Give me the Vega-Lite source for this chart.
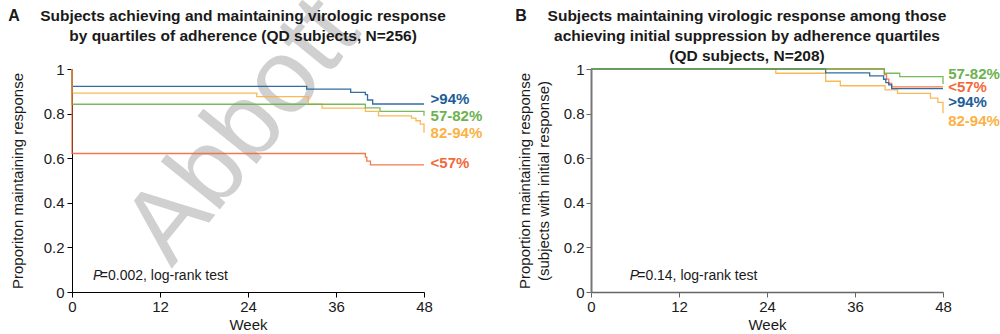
{
  "$schema": "https://vega.github.io/schema/vega-lite/v6.json",
  "background": "white",
  "padding": {"left": 8, "top": -20, "right": 0, "bottom": 0},
  "bounds": "flush",
  "spacing": 167,
  "config": {
    "font": "Liberation Sans",
    "view": {"stroke": null},
    "axis": {"labelFont": "Liberation Sans", "titleFont": "Liberation Sans", "labelFontSize": 15, "titleFontSize": 15, "titleFontWeight": "normal", "labelColor": "#1a1a1a", "titleColor": "#1a1a1a", "grid": false, "tickSize": 5, "labelPadding": 2, "labelFlush": false}
  },
  "datasets": {
    "a": [
      {"g": ">94%", "w": 0, "s": 1}, {"g": ">94%", "w": 0, "s": 0.922}, {"g": ">94%", "w": 32.0, "s": 0.910}, {"g": ">94%", "w": 38.0, "s": 0.895}, {"g": ">94%", "w": 40.0, "s": 0.885}, {"g": ">94%", "w": 40.3, "s": 0.861}, {"g": ">94%", "w": 41.0, "s": 0.843}, {"g": ">94%", "w": 48, "s": 0.843},
      {"g": "82-94%", "w": 0, "s": 1}, {"g": "82-94%", "w": 0, "s": 0.892}, {"g": "82-94%", "w": 25.2, "s": 0.876}, {"g": "82-94%", "w": 32.2, "s": 0.842}, {"g": "82-94%", "w": 34.1, "s": 0.825}, {"g": "82-94%", "w": 40.0, "s": 0.810}, {"g": "82-94%", "w": 41.8, "s": 0.790}, {"g": "82-94%", "w": 46.3, "s": 0.780}, {"g": "82-94%", "w": 46.9, "s": 0.768}, {"g": "82-94%", "w": 47.5, "s": 0.753}, {"g": "82-94%", "w": 48, "s": 0.753}, {"g": "82-94%", "w": 48, "s": 0.714},
      {"g": "57-82%", "w": 0, "s": 1}, {"g": "57-82%", "w": 0, "s": 0.842}, {"g": "57-82%", "w": 40.0, "s": 0.826}, {"g": "57-82%", "w": 42.0, "s": 0.810}, {"g": "57-82%", "w": 48, "s": 0.810}, {"g": "57-82%", "w": 48, "s": 0.790},
      {"g": "<57%", "w": 0, "s": 1}, {"g": "<57%", "w": 0, "s": 0.621}, {"g": "<57%", "w": 40.0, "s": 0.605}, {"g": "<57%", "w": 40.2, "s": 0.587}, {"g": "<57%", "w": 40.7, "s": 0.570}, {"g": "<57%", "w": 48, "s": 0.570}
    ],
    "b": [
      {"g": "82-94%", "w": 0, "s": 1}, {"g": "82-94%", "w": 25.2, "s": 0.981}, {"g": "82-94%", "w": 32.0, "s": 0.945}, {"g": "82-94%", "w": 34.0, "s": 0.925}, {"g": "82-94%", "w": 40.1, "s": 0.906}, {"g": "82-94%", "w": 41.8, "s": 0.891}, {"g": "82-94%", "w": 46.3, "s": 0.869}, {"g": "82-94%", "w": 47.3, "s": 0.850}, {"g": "82-94%", "w": 48, "s": 0.850}, {"g": "82-94%", "w": 48, "s": 0.802},
      {"g": "<57%", "w": 0, "s": 1}, {"g": "<57%", "w": 40.0, "s": 0.975}, {"g": "<57%", "w": 40.3, "s": 0.955}, {"g": "<57%", "w": 40.6, "s": 0.935}, {"g": "<57%", "w": 41.0, "s": 0.920}, {"g": "<57%", "w": 48, "s": 0.920},
      {"g": ">94%", "w": 0, "s": 1}, {"g": ">94%", "w": 32.0, "s": 0.983}, {"g": ">94%", "w": 38.0, "s": 0.969}, {"g": ">94%", "w": 39.9, "s": 0.954}, {"g": ">94%", "w": 40.2, "s": 0.939}, {"g": ">94%", "w": 40.6, "s": 0.929}, {"g": ">94%", "w": 41.0, "s": 0.912}, {"g": ">94%", "w": 48, "s": 0.912},
      {"g": "57-82%", "w": 0, "s": 1}, {"g": "57-82%", "w": 40.0, "s": 0.981}, {"g": "57-82%", "w": 42.1, "s": 0.966}, {"g": "57-82%", "w": 48, "s": 0.966}, {"g": "57-82%", "w": 48, "s": 0.933}
    ]
  },
  "hconcat": [
    {
      "width": 352,
      "height": 223,
      "layer": [
        {
          "data": {"values": [{}]},
          "mark": {"type": "text", "text": "Abbott", "fontSize": 105, "angle": -51, "color": "#d0d0d0", "align": "center", "baseline": "middle", "font": "Liberation Sans"},
          "encoding": {"x": {"datum": 23.2, "type": "quantitative", "scale": {"domain": [0, 48], "nice": false}}, "y": {"datum": 0.722, "type": "quantitative", "scale": {"domain": [0, 1], "nice": false}}}
        },
        {
          "data": {"name": "a"},
          "mark": {"type": "line", "interpolate": "step-after", "strokeWidth": 1.3, "opacity": 0.9},
          "encoding": {
            "x": {"field": "w", "type": "quantitative", "scale": {"domain": [0, 48], "nice": false}, "axis": {"values": [0, 12, 24, 36, 48], "title": "Week", "titlePadding": 3, "domainColor": "#000", "tickColor": "#000"}},
            "y": {"field": "s", "type": "quantitative", "scale": {"domain": [0, 1], "nice": false}, "axis": {"values": [0, 0.2, 0.4, 0.6, 0.8, 1], "format": "~g", "title": "Proporiton maintaining response", "labelPadding": 3, "titlePadding": 18, "domainColor": "#000", "tickColor": "#000"}},
            "color": {"field": "g", "type": "nominal", "legend": null, "scale": {"domain": [">94%", "57-82%", "82-94%", "<57%"], "range": ["#1d5d97", "#6cb24e", "#fbb143", "#f26a3c"]}}
          }
        },
        {"data": {"values": [{}]}, "mark": {"type": "text", "text": ["Subjects achieving and maintaining virologic response", "by quartiles of adherence (QD subjects, N=256)"], "fontSize": 15.5, "fontWeight": "bold", "lineHeight": 20, "align": "center", "baseline": "middle", "color": "#1a1a1a"}, "encoding": {"x": {"datum": 23.32, "type": "quantitative"}, "y": {"datum": 1.238, "type": "quantitative"}}},
        {"data": {"values": [{}]}, "mark": {"type": "text", "text": "A", "fontSize": 16, "fontWeight": "bold", "align": "center", "baseline": "middle", "color": "#1a1a1a"}, "encoding": {"x": {"datum": -7.9, "type": "quantitative"}, "y": {"datum": 1.238, "type": "quantitative"}}},
        {"data": {"values": [{}]}, "mark": {"type": "text", "text": ">94%", "fontSize": 15, "fontWeight": "bold", "align": "left", "baseline": "middle", "color": "#1d5d97"}, "encoding": {"x": {"datum": 48.9, "type": "quantitative"}, "y": {"datum": 0.865, "type": "quantitative"}}},
        {"data": {"values": [{}]}, "mark": {"type": "text", "text": "57-82%", "fontSize": 15, "fontWeight": "bold", "align": "left", "baseline": "middle", "color": "#6cb24e"}, "encoding": {"x": {"datum": 48.9, "type": "quantitative"}, "y": {"datum": 0.788, "type": "quantitative"}}},
        {"data": {"values": [{}]}, "mark": {"type": "text", "text": "82-94%", "fontSize": 15, "fontWeight": "bold", "align": "left", "baseline": "middle", "color": "#fbb143"}, "encoding": {"x": {"datum": 48.9, "type": "quantitative"}, "y": {"datum": 0.713, "type": "quantitative"}}},
        {"data": {"values": [{}]}, "mark": {"type": "text", "text": "<57%", "fontSize": 15, "fontWeight": "bold", "align": "left", "baseline": "middle", "color": "#f26a3c"}, "encoding": {"x": {"datum": 48.9, "type": "quantitative"}, "y": {"datum": 0.578, "type": "quantitative"}}},
        {"data": {"values": [{}]}, "mark": {"type": "text", "text": "P", "fontSize": 14, "fontStyle": "italic", "align": "left", "baseline": "middle", "color": "#1a1a1a"}, "encoding": {"x": {"datum": 2.86, "type": "quantitative"}, "y": {"datum": 0.073, "type": "quantitative"}}},
        {"data": {"values": [{}]}, "mark": {"type": "text", "text": "=0.002, log-rank test", "fontSize": 14, "align": "left", "baseline": "middle", "color": "#1a1a1a"}, "encoding": {"x": {"datum": 3.8, "type": "quantitative"}, "y": {"datum": 0.073, "type": "quantitative"}}}
      ]
    },
    {
      "width": 352,
      "height": 223,
      "layer": [
        {
          "data": {"name": "b"},
          "mark": {"type": "line", "interpolate": "step-after", "strokeWidth": 1.3, "opacity": 0.9},
          "encoding": {
            "x": {"field": "w", "type": "quantitative", "scale": {"domain": [0, 48], "nice": false}, "axis": {"values": [0, 12, 24, 36, 48], "title": "Week", "titlePadding": 3, "domainColor": "#666", "tickColor": "#666", "domainWidth": 1.5}},
            "y": {"field": "s", "type": "quantitative", "scale": {"domain": [0, 1], "nice": false}, "axis": {"values": [0, 0.2, 0.4, 0.6, 0.8, 1], "format": "~g", "title": ["Proportion maintaining response", "(subjects with initial response)"], "titlePadding": 12, "titleLineHeight": 19, "domainColor": "#777", "tickColor": "#666", "domainWidth": 2}},
            "color": {"field": "g", "type": "nominal", "legend": null, "scale": {"domain": [">94%", "57-82%", "82-94%", "<57%"], "range": ["#1d5d97", "#6cb24e", "#fbb143", "#f26a3c"]}}
          }
        },
        {"data": {"values": [{}]}, "mark": {"type": "text", "text": ["Subjects maintaining virologic response among those", "achieving initial suppression by adherence quartiles", "(QD subjects, N=208)"], "fontSize": 15.5, "fontWeight": "bold", "lineHeight": 20, "align": "center", "baseline": "middle", "color": "#1a1a1a"}, "encoding": {"x": {"datum": 21.27, "type": "quantitative"}, "y": {"datum": 1.238, "type": "quantitative"}}},
        {"data": {"values": [{}]}, "mark": {"type": "text", "text": "B", "fontSize": 16, "fontWeight": "bold", "align": "center", "baseline": "middle", "color": "#1a1a1a"}, "encoding": {"x": {"datum": -9.55, "type": "quantitative"}, "y": {"datum": 1.238, "type": "quantitative"}}},
        {"data": {"values": [{}]}, "mark": {"type": "text", "text": "57-82%", "fontSize": 15, "fontWeight": "bold", "align": "left", "baseline": "middle", "color": "#6cb24e"}, "encoding": {"x": {"datum": 48.7, "type": "quantitative"}, "y": {"datum": 0.978, "type": "quantitative"}}},
        {"data": {"values": [{}]}, "mark": {"type": "text", "text": "<57%", "fontSize": 15, "fontWeight": "bold", "align": "left", "baseline": "middle", "color": "#f26a3c"}, "encoding": {"x": {"datum": 48.7, "type": "quantitative"}, "y": {"datum": 0.921, "type": "quantitative"}}},
        {"data": {"values": [{}]}, "mark": {"type": "text", "text": ">94%", "fontSize": 15, "fontWeight": "bold", "align": "left", "baseline": "middle", "color": "#1d5d97"}, "encoding": {"x": {"datum": 48.7, "type": "quantitative"}, "y": {"datum": 0.850, "type": "quantitative"}}},
        {"data": {"values": [{}]}, "mark": {"type": "text", "text": "82-94%", "fontSize": 15, "fontWeight": "bold", "align": "left", "baseline": "middle", "color": "#fbb143"}, "encoding": {"x": {"datum": 48.7, "type": "quantitative"}, "y": {"datum": 0.769, "type": "quantitative"}}},
        {"data": {"values": [{}]}, "mark": {"type": "text", "text": "P", "fontSize": 14, "fontStyle": "italic", "align": "left", "baseline": "middle", "color": "#1a1a1a"}, "encoding": {"x": {"datum": 5.3, "type": "quantitative"}, "y": {"datum": 0.073, "type": "quantitative"}}},
        {"data": {"values": [{}]}, "mark": {"type": "text", "text": "=0.14, log-rank test", "fontSize": 14, "align": "left", "baseline": "middle", "color": "#1a1a1a"}, "encoding": {"x": {"datum": 6.3, "type": "quantitative"}, "y": {"datum": 0.073, "type": "quantitative"}}}
      ]
    }
  ]
}
